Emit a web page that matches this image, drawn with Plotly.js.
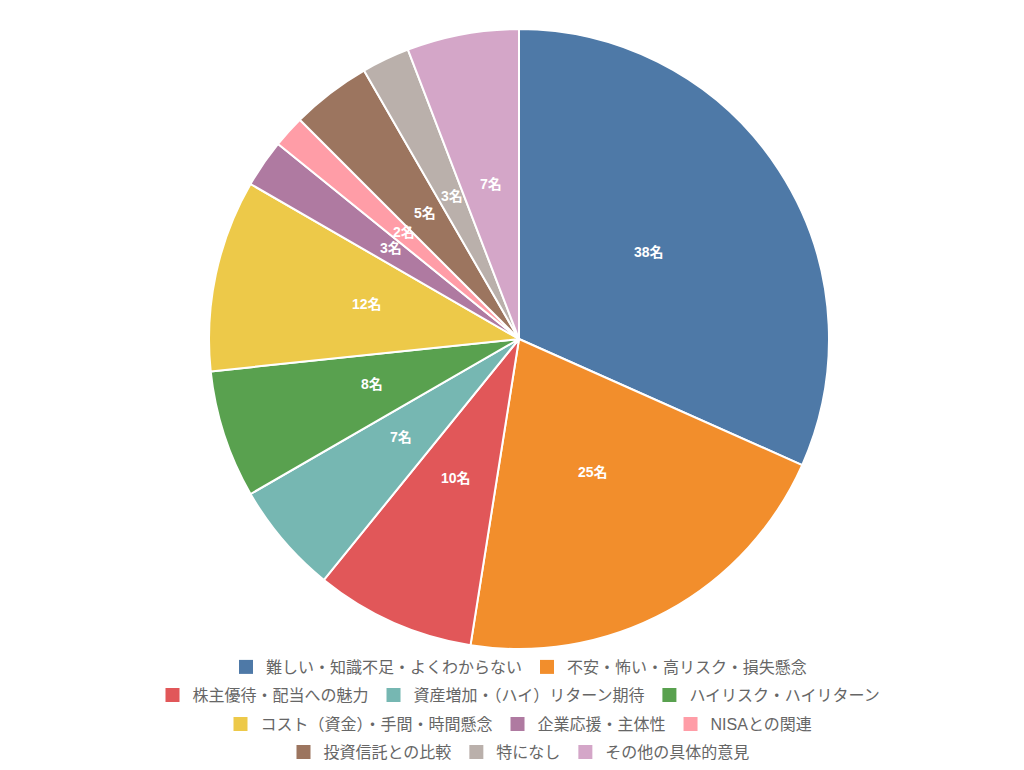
<!DOCTYPE html>
<html>
<head>
<meta charset="utf-8">
<script src="https://cdn.plot.ly/plotly-3.0.1.min.js"></script>
<style>
  html, body { margin: 0; padding: 0; background: #fff; }
  #chart { width: 1024px; height: 770px; }
</style>
</head>
<body>
<div id="chart"></div>
<script>
const categories = [
    '難しい・知識不足・よくわからない',
    '不安・怖い・高リスク・損失懸念',
    '株主優待・配当への魅力',
    '資産増加・（ハイ）リターン期待',
    'ハイリスク・ハイリターン',
    'コスト（資金）・手間・時間懸念',
    '企業応援・主体性',
    'NISAとの関連',
    '投資信託との比較',
    '特になし',
    'その他の具体的意見',
];

const counts = [38, 25, 10, 7, 8, 12, 3, 2, 5, 3, 7];

const colors = [
    '#4e79a7', '#f28e2c', '#e15759', '#76b7b2', '#59a14f', '#edc949',
    '#af7aa1', '#ff9da7', '#9c755f', '#bab0ab', '#d4a6c8',
];

// legend rows as in the original (index ranges into categories)
const legendRows = [[0, 1], [2, 3, 4], [5, 6, 7], [8, 9, 10]];
const legendRowY = [667, 695, 724, 752];

const fontFamily = '"Liberation Sans", Arial, "Noto Sans CJK JP", sans-serif';
const W = 1024, H = 770;

const pieTrace = {
    type: 'pie',
    labels: categories,
    values: counts,
    sort: false,
    direction: 'clockwise',
    rotation: 0,
    marker: { colors: colors, line: { color: '#ffffff', width: 2 } },
    textinfo: 'none',
    hoverinfo: 'label+value',
    showlegend: false,
    domain: { x: [0, 1], y: [0, 1] },
};

// legend entries: empty scatter traces, one per category
const legendTraces = [];
legendRows.forEach((row, r) => {
    row.forEach(i => {
        legendTraces.push({
            type: 'scatter',
            mode: 'markers',
            x: [null], y: [null],
            name: categories[i],
            marker: { symbol: 'square', size: 14, color: colors[i] },
            legend: r == 0 ? 'legend' : 'legend' + (r + 1),
            hoverinfo: 'skip',
        });
    });
});

// value labels at half radius, middle of each slice
const total = counts.reduce((a, b) => a + b, 0);
const annotations = [];
let cum = 0;
counts.forEach(v => {
    const a = (cum + v / 2) / total * 2 * Math.PI;
    cum += v;
    annotations.push({
        x: 0.5 * Math.sin(a), y: 0.5 * Math.cos(a),
        xref: 'x', yref: 'y',
        yshift: 3,
        text: v + '名',
        showarrow: false,
        font: { color: '#ffffff', size: 14, family: fontFamily, weight: 'bold' },
    });
});

function legendAt(r) {
    return {
        orientation: 'h',
        x: 0.5, xanchor: 'center',
        y: 1 - legendRowY[r] / H, yref: 'container', yanchor: 'middle',
        font: { size: 16, color: '#666666', family: fontFamily },
        itemwidth: 30,
        bgcolor: 'rgba(0,0,0,0)',
    };
}

const layout = {
    width: W,
    height: H,
    margin: { l: 14, r: 0, t: 29, b: 121 },
    paper_bgcolor: '#ffffff',
    plot_bgcolor: 'rgba(0,0,0,0)',
    font: { family: fontFamily, color: '#666666', size: 14 },
    xaxis: { visible: false, range: [-1, 1], scaleanchor: 'y', scaleratio: 1 },
    yaxis: { visible: false, range: [-1, 1] },
    showlegend: true,
    legend: legendAt(0),
    legend2: legendAt(1),
    legend3: legendAt(2),
    legend4: legendAt(3),
    annotations: annotations,
};

Plotly.newPlot('chart', [pieTrace].concat(legendTraces), layout, { displayModeBar: false, staticPlot: true });
</script>
</body>
</html>
